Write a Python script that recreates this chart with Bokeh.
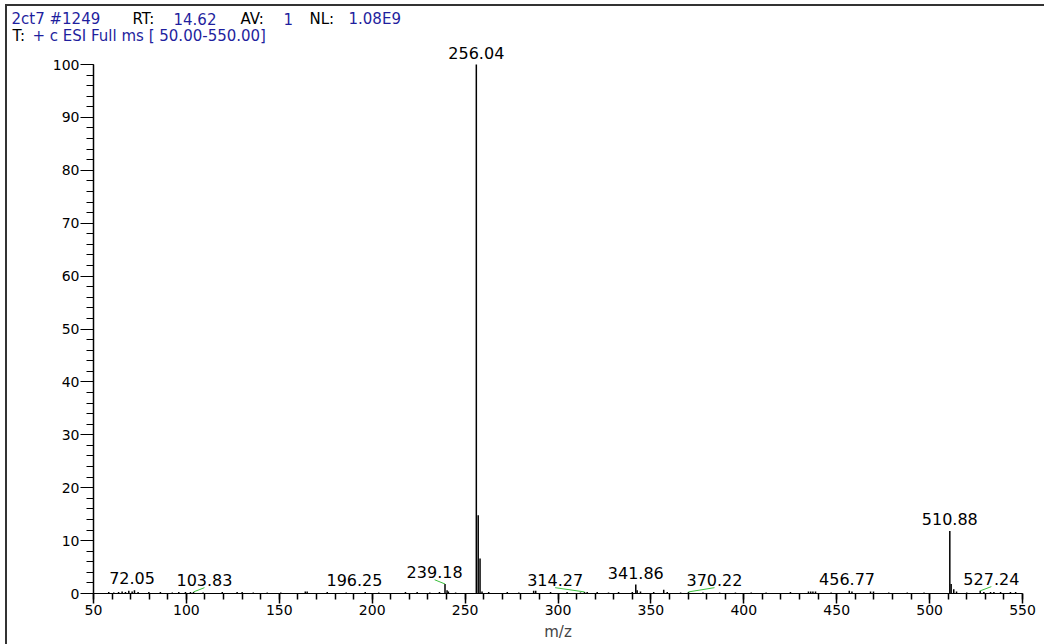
from bokeh.plotting import figure
from bokeh.layouts import column
from bokeh.models import Range1d, SingleIntervalTicker, LabelSet, ColumnDataSource
from bokeh.core.properties import value
from bokeh.embed import file_html
from bokeh.resources import INLINE

# ---------------- data ----------------
mz = [58.2, 60.9, 63.5, 65.4, 67.2, 69.0, 70.8, 72.05, 74.0, 79.8, 86.0, 92.4, 95.9,
      99.5, 102.2, 103.83, 109.0, 119.3, 127.3, 130.0, 136.0, 143.5, 150.8, 164.0,
      165.0, 175.8, 186.0, 196.25, 203.5, 217.9, 224.2, 231.0, 236.2, 239.18, 240.3,
      241.0, 244.9, 256.04, 257.05, 258.04, 259.1, 262.7, 272.7, 278.9, 286.9, 288.0,
      296.0, 304.9, 312.1, 314.27, 315.7, 321.1, 327.2, 332.6, 340.0, 341.86, 342.6,
      344.4, 351.5, 356.9, 358.8, 366.0, 370.22, 378.0, 387.0, 395.5, 404.0, 412.0,
      425.1, 434.8, 436.0, 437.2, 438.6, 447.0, 456.77, 458.2, 468.2, 469.8, 478.0,
      488.0, 497.0, 510.88, 511.6, 513.0, 514.5, 520.0, 527.24, 529.2, 532.8, 534.6,
      538.2, 543.5, 546.3]
intensity = [0.3, 0.2, 0.3, 0.4, 0.3, 0.5, 0.4, 0.6, 0.3, 0.3, 0.3, 0.2, 0.3,
             0.3, 0.3, 0.3, 0.2, 0.3, 0.3, 0.3, 0.2, 0.2, 0.2, 0.4,
             0.4, 0.3, 0.2, 0.3, 0.2, 0.3, 0.3, 0.2, 0.3, 1.8, 0.6,
             0.4, 0.2, 100.0, 14.8, 6.6, 0.4, 0.3, 0.3, 0.2, 0.5, 0.5,
             0.3, 0.3, 0.2, 0.3, 0.3, 0.3, 0.2, 0.3, 0.3, 1.7, 0.6,
             0.4, 0.3, 0.7, 0.3, 0.2, 0.3, 0.2, 0.2, 0.2, 0.2, 0.2,
             0.3, 0.4, 0.4, 0.4, 0.4, 0.2, 0.5, 0.4, 0.4, 0.4, 0.2,
             0.2, 0.2, 11.8, 1.8, 0.8, 0.4, 0.2, 0.5, 0.3, 0.3, 0.3,
             0.3, 0.3, 0.3]

label_mz = [72.05, 103.83, 196.25, 239.18, 256.04, 314.27, 341.86, 370.22, 456.77, 510.88, 527.24]
label_int = [0.6, 0.3, 0.3, 1.8, 100.0, 0.3, 1.7, 0.3, 0.5, 11.8, 0.5]
label_shift = [-1.3, 5.9, -5.8, -5.6, 0.0, -15.8, 0.0, 14.0, -1.2, 0.0, 6.0]   # text displacement (m/z)
label_leader = [False, True, False, True, False, True, False, True, False, False, True]

x_start, x_end, x_major, x_minor = 50, 550, 50, 5
y_start, y_end, y_major, y_minor = 0, 100, 10, 5
x_title = "m/z"

BLUE = "#1f1f9e"
BLACK = "#000000"
header1_text = ["2ct7 #1249", "RT:", "14.62", "AV:", "1", "NL:", "1.08E9"]
header1_color = [BLUE, BLACK, BLUE, BLACK, BLUE, BLACK, BLUE]
header2_text = ["T:", "+ c ESI Full ms [ 50.00-550.00]"]
header2_color = [BLACK, BLUE]

# ---------------- layout ----------------
FONT = "DejaVu Sans"
W = 1037
HEAD_H = 38
MAIN_H = 638 - HEAD_H
PX_PER_Y = 5.29          # vertical pixels per % intensity

# header strip (its own svg figure)
hdr = figure(width=W, height=HEAD_H, output_backend="svg", toolbar_location=None,
             title=None,
             x_range=Range1d(0, W), y_range=Range1d(0, HEAD_H),
             x_axis_location=None, y_axis_location=None,
             min_border=0, min_border_left=0, min_border_right=0,
             min_border_top=0, min_border_bottom=0)
try:
    hdr.frame_align = False
except Exception:
    pass
hdr.outline_line_color = None
hdr.xgrid.visible = False
hdr.ygrid.visible = False
hdr.text(x=[4, 125, 166, 233, 276, 302, 341], y=[HEAD_H - 12] * 7, text=header1_text,
         text_color=header1_color, text_font=value(FONT), text_font_size="15px",
         text_baseline="alphabetic", text_align="left")
hdr.text(x=[5, 25], y=[HEAD_H - 29] * 2, text=header2_text,
         text_color=header2_color, text_font=value(FONT), text_font_size="15px",
         text_baseline="alphabetic", text_align="left")

# main spectrum
frame_h = MAIN_H - 51
p = figure(width=W, height=MAIN_H, output_backend="svg", toolbar_location=None,
           title=None,
           x_range=Range1d(x_start, x_end), y_range=Range1d(y_start, frame_h / PX_PER_Y),
           min_border_left=86, min_border_right=22, min_border_top=0, min_border_bottom=51)
try:
    p.frame_align = False
except Exception:
    pass
p.outline_line_color = None
p.xgrid.visible = False
p.ygrid.visible = False
p.background_fill_color = "white"
p.border_fill_color = "white"

p.xaxis.ticker = SingleIntervalTicker(interval=x_major, num_minor_ticks=x_minor)
p.yaxis.ticker = SingleIntervalTicker(interval=y_major, num_minor_ticks=y_minor)
p.yaxis.bounds = (y_start, y_end)
p.xaxis.bounds = (x_start, x_end)
for ax in (p.xaxis[0], p.yaxis[0]):
    ax.axis_line_color = "black"
    ax.major_tick_line_color = "black"
    ax.minor_tick_line_color = "black"
    ax.major_tick_in = 0
    ax.minor_tick_in = 0
    ax.major_label_text_font = FONT
    ax.major_label_text_font_size = "14px"
    ax.major_label_text_color = "black"
p.xaxis.major_tick_out = 10
p.xaxis.minor_tick_out = 6
p.xaxis.major_tick_line_width = 1.5
p.xaxis.minor_tick_line_width = 1.5
p.xaxis.major_label_standoff = 1
p.yaxis.major_tick_out = 13
p.yaxis.minor_tick_out = 7
p.yaxis.axis_line_width = 1.5
p.yaxis.major_label_standoff = 1
p.xaxis.axis_label = x_title
p.xaxis.axis_label_text_font = FONT
p.xaxis.axis_label_text_font_size = "15px"
p.xaxis.axis_label_text_font_style = "normal"
p.xaxis.axis_label_standoff = 5

# spectrum sticks
p.segment(x0=mz, y0=[0] * len(mz), x1=mz, y1=intensity, line_color="black", line_width=1.5)

# leader lines (green) for displaced labels
lx0 = [m for m, l in zip(label_mz, label_leader) if l]
ly0 = [v for v, l in zip(label_int, label_leader) if l]
lx1 = [m + d for m, d, l in zip(label_mz, label_shift, label_leader) if l]
ly1 = [v + 0.8 for v, l in zip(label_int, label_leader) if l]
p.segment(x0=lx0, y0=ly0, x1=lx1, y1=ly1, line_color="#3cbf3c", line_width=1)

src = ColumnDataSource(dict(x=[m + d for m, d in zip(label_mz, label_shift)],
                            y=label_int,
                            t=["%.2f" % m for m in label_mz]))
p.add_layout(LabelSet(x="x", y="y", text="t", source=src, y_offset=6,
                      text_align="center", text_baseline="alphabetic",
                      text_font=value(FONT), text_font_size="16px", text_color="black"))

page = column(hdr, p, spacing=0,
              styles={"margin-top": "4px", "margin-left": "5px",
                      "border-left": "2px solid #333", "border-top": "2px solid #333"})

open("out.html", "w").write(file_html(page, INLINE))
